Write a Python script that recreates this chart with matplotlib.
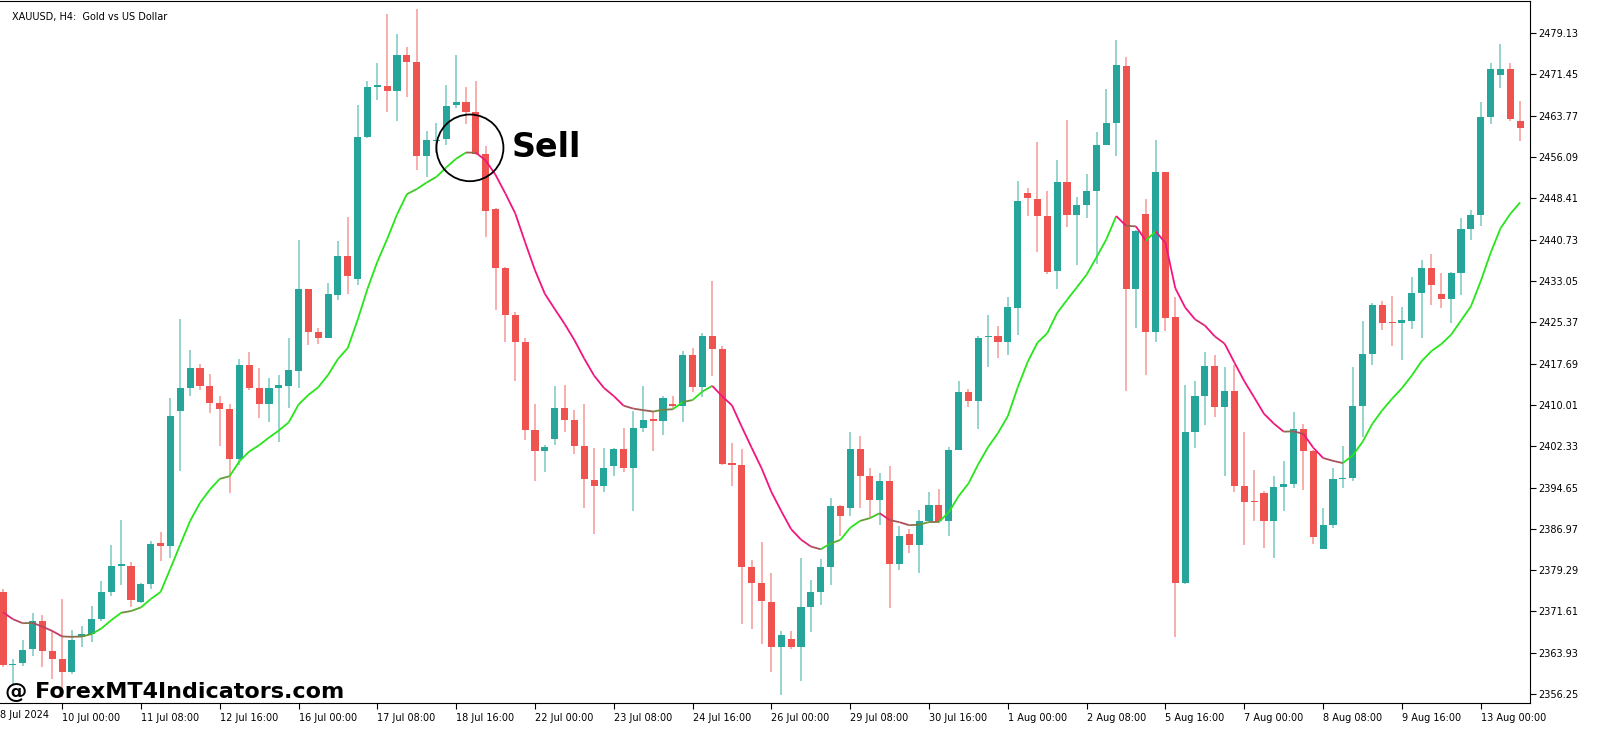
import matplotlib
matplotlib.use("Agg")
import matplotlib.pyplot as plt
import numpy as np
from matplotlib.patches import Ellipse, Rectangle
from matplotlib.collections import LineCollection

opens = [2375.3,2361.6,2362.0,2364.6,2369.9,2364.3,2362.8,2360.3,2366.8,2367.4,
 2370.3,2375.3,2380.1,2380.1,2373.4,2376.7,2384.3,2383.8,2408.8,2413.2,
 2416.9,2413.6,2410.3,2409.2,2400.0,2417.5,2413.1,2410.1,2413.2,2413.6,
 2416.3,2431.5,2423.6,2422.5,2430.5,2437.7,2433.5,2459.8,2469.2,2469.3,
 2468.3,2475.1,2473.7,2456.3,2459.1,2459.4,2465.8,2466.3,2464.4,2456.7,
 2446.5,2435.4,2426.7,2421.7,2405.3,2401.5,2403.6,2409.5,2407.2,2402.4,
 2396.1,2394.9,2398.6,2401.8,2398.3,2405.7,2407.2,2407.0,2410.2,2409.8,
 2419.2,2413.4,2422.8,2420.4,2399.0,2398.9,2379.8,2376.9,2373.4,2365.1,
 2366.5,2365.1,2372.4,2375.3,2379.8,2391.2,2390.8,2401.8,2396.8,2392.3,
 2395.8,2380.4,2386.0,2384.0,2388.4,2391.4,2388.5,2401.6,2412.5,2410.7,
 2422.6,2422.8,2421.8,2428.1,2449.5,2448.2,2445.1,2434.9,2451.5,2445.3,
 2447.1,2449.7,2458.4,2462.5,2473.1,2431.6,2445.5,2423.5,2453.3,2426.4,
 2376.9,2404.9,2411.7,2417.3,2409.7,2412.6,2394.9,2392.0,2393.7,2388.5,
 2394.7,2395.3,2405.5,2401.5,2383.3,2387.7,2396.2,2396.4,2409.8,2419.4,
 2428.5,2425.3,2425.2,2425.7,2430.8,2435.5,2430.6,2429.7,2434.5,2442.8,
 2445.3,2463.5,2471.4,2472.4,2462.8]
highs = [2375.7,2362.8,2366.4,2371.4,2370.9,2368.2,2373.9,2368.2,2369.0,2372.6,
 2377.3,2384.0,2388.7,2380.8,2376.9,2384.8,2386.3,2411.3,2426.0,2420.2,
 2417.7,2415.8,2411.7,2410.1,2418.5,2419.8,2416.9,2415.0,2415.5,2422.4,
 2440.7,2431.6,2424.4,2432.7,2440.5,2444.9,2465.8,2470.2,2473.5,2482.6,
 2479.0,2476.6,2483.6,2460.9,2462.5,2469.5,2475.1,2469.1,2470.2,2458.2,
 2446.6,2435.6,2427.3,2422.5,2410.1,2402.6,2413.6,2413.8,2409.1,2410.1,
 2402.0,2402.0,2402.0,2405.7,2408.8,2413.6,2408.8,2411.7,2411.7,2420.0,
 2420.6,2423.3,2433.0,2421.0,2403.0,2401.8,2381.1,2384.6,2378.7,2368.0,
 2367.9,2381.5,2377.5,2381.3,2392.8,2391.4,2404.9,2404.3,2398.2,2397.4,
 2398.6,2387.5,2387.0,2390.4,2393.9,2394.3,2402.2,2414.4,2413.0,2422.8,
 2426.8,2424.6,2430.1,2451.7,2450.3,2458.8,2449.7,2455.5,2462.9,2448.6,
 2452.9,2460.8,2468.8,2477.9,2474.7,2442.5,2448.2,2459.2,2453.4,2430.0,
 2413.8,2414.5,2419.8,2419.2,2417.0,2417.5,2404.9,2397.9,2394.1,2396.8,
 2399.5,2408.7,2406.5,2401.6,2390.8,2398.3,2402.4,2417.0,2425.7,2428.9,
 2429.4,2430.2,2428.3,2433.7,2437.0,2438.0,2434.5,2434.7,2444.7,2446.3,
 2466.4,2473.5,2477.1,2473.6,2466.5]
lows = [2361.2,2357.8,2361.4,2363.4,2361.2,2359.1,2355.8,2360.0,2365.1,2366.0,
 2369.9,2374.4,2376.5,2372.4,2373.2,2375.7,2381.0,2381.5,2397.8,2411.7,
 2412.7,2408.6,2402.4,2393.7,2398.9,2412.7,2407.6,2406.9,2403.2,2409.5,
 2413.1,2421.1,2421.4,2422.4,2429.6,2430.6,2432.3,2459.6,2466.7,2464.5,
 2462.7,2467.3,2453.6,2452.3,2456.9,2458.3,2465.2,2462.3,2456.5,2441.3,
 2427.7,2421.8,2414.5,2403.4,2395.8,2397.6,2402.6,2404.9,2400.8,2390.8,
 2386.0,2393.9,2396.8,2397.6,2390.3,2404.9,2401.5,2404.4,2409.5,2406.8,
 2412.4,2411.5,2415.3,2398.9,2395.0,2369.3,2368.4,2365.5,2360.3,2356.0,
 2364.7,2358.7,2367.8,2372.8,2376.5,2385.6,2389.3,2390.8,2389.1,2387.7,
 2372.2,2379.4,2382.5,2378.8,2388.4,2388.1,2385.6,2401.6,2409.7,2405.5,
 2417.0,2418.8,2419.2,2423.1,2445.1,2438.5,2434.4,2431.5,2443.1,2436.0,
 2444.7,2436.2,2458.3,2456.3,2412.6,2424.3,2415.5,2421.7,2423.8,2366.8,
 2376.8,2402.0,2406.2,2407.8,2396.8,2393.9,2384.0,2388.5,2383.4,2381.5,
 2390.2,2394.5,2394.2,2384.1,2383.2,2387.1,2394.5,2395.8,2404.1,2417.4,
 2424.0,2420.9,2418.4,2424.2,2422.5,2428.6,2428.1,2425.2,2430.4,2440.6,
 2443.2,2462.3,2468.9,2462.8,2459.1]
closes = [2361.6,2361.8,2364.5,2369.9,2364.3,2362.8,2360.3,2366.4,2367.4,2370.3,
 2375.3,2380.1,2380.2,2373.8,2376.7,2384.1,2383.8,2408.0,2413.1,2416.9,
 2413.6,2410.3,2409.2,2400.0,2417.5,2413.2,2410.2,2413.1,2413.8,2416.5,
 2431.6,2423.6,2422.5,2430.6,2437.7,2433.9,2459.8,2469.1,2469.4,2468.3,
 2475.1,2473.7,2456.3,2459.2,2459.3,2465.6,2466.3,2464.4,2456.7,2446.0,
 2435.4,2426.7,2421.7,2405.3,2401.4,2402.2,2409.5,2407.2,2402.4,2396.2,
 2394.9,2398.3,2401.8,2398.2,2405.8,2407.2,2407.1,2411.3,2409.8,2419.2,
 2413.4,2422.8,2420.4,2399.0,2398.9,2379.8,2376.9,2373.6,2365.1,2367.2,
 2365.1,2372.4,2375.3,2379.8,2391.2,2389.3,2401.8,2396.8,2392.3,2395.8,
 2380.4,2385.6,2384.0,2388.4,2391.4,2388.5,2401.6,2412.5,2410.7,2422.5,
 2422.8,2421.8,2428.3,2448.0,2448.4,2445.1,2434.8,2451.5,2445.3,2447.1,
 2449.7,2458.4,2462.5,2473.2,2431.6,2442.4,2423.5,2453.3,2426.2,2376.9,
 2404.9,2411.6,2417.3,2409.7,2412.6,2394.9,2392.0,2391.9,2388.5,2394.7,
 2395.3,2405.5,2401.5,2385.4,2387.7,2396.2,2396.5,2409.8,2419.4,2428.6,
 2425.2,2425.2,2425.8,2430.8,2435.5,2432.3,2429.7,2434.5,2442.8,2445.3,
 2463.5,2472.4,2472.4,2463.2,2461.5]

price_ticks = [2479.13,2471.45,2463.77,2456.09,2448.41,2440.73,2433.05,2425.37,2417.69,
               2410.01,2402.33,2394.65,2386.97,2379.29,2371.61,2363.93,2356.25]
date_labels = ["10 Jul 00:00","11 Jul 08:00","12 Jul 16:00","16 Jul 00:00","17 Jul 08:00",
               "18 Jul 16:00","22 Jul 00:00","23 Jul 08:00","24 Jul 16:00","26 Jul 00:00",
               "29 Jul 08:00","30 Jul 16:00","1 Aug 00:00","2 Aug 08:00","5 Aug 16:00",
               "7 Aug 00:00","8 Aug 08:00","9 Aug 16:00","13 Aug 00:00"]
date_idx = [6 + 8*k for k in range(len(date_labels))]
ma_period = 14
ma_seed = 2373.0

GREEN = "#26a69a"; RED = "#ef5350"
GW = "#8fd1ca"; RW = "#f7a8a6"

fig = plt.figure(figsize=(16, 7.34), dpi=100)
ax = fig.add_axes([0.0, 31/734, 1530/1600, 1 - 31/734 - 1/734])
n = len(opens)
x = np.arange(n)
for i in range(n):
    o, h, l, c = opens[i], highs[i], lows[i], closes[i]
    up = c >= o
    ax.vlines(i, l, h, color=GW if up else RW, lw=1.3, zorder=2)
    bot = min(o, c); hgt = max(abs(c - o), 0.25)
    ax.add_patch(Rectangle((i - 0.36, bot), 0.72, hgt, facecolor=GREEN if up else RED,
                           edgecolor="none", zorder=3))

# EMA indicator
alpha = 2 / (ma_period + 1)
ma = []
v = ma_seed
for c in closes:
    v = v + alpha * (c - v)
    ma.append(v)
ma = np.array(ma)
pts = np.column_stack([x, ma])
segs = np.stack([pts[:-1], pts[1:]], axis=1)
slope = np.diff(ma)
cg = np.array([0.15, 0.9, 0.1]); cb = np.array([0.55, 0.42, 0.3]); cp = np.array([0.95, 0.08, 0.5])
cols = []
for s in slope:
    t = np.clip(s / 2.0, -1, 1)
    if t >= 0:
        cols.append(cb + (cg - cb) * min(1, t * 1.6))
    else:
        cols.append(cb + (cp - cb) * min(1, -t * 1.2))
ax.add_collection(LineCollection(segs, colors=cols, lw=1.3, zorder=4))

ax.set_xlim(-0.3, 155.0)
ax.set_ylim(2354.6, 2485.1)
ax.yaxis.tick_right()
ax.set_yticks(price_ticks)
ax.set_yticklabels([f"{p:.2f}" for p in price_ticks], fontsize=7)
ax.set_xticks(date_idx)
ax.set_xticklabels(date_labels, fontsize=7, ha="left")
ax.tick_params(axis="y", length=4, pad=2)
ax.tick_params(axis="x", length=4, pad=3)
for sp in ax.spines.values():
    sp.set_color("black"); sp.set_linewidth(0.8)
ax.spines["left"].set_visible(False)
fig.text(0.0, 19/734, "8 Jul 2024", fontsize=7, ha="left", va="center")

# annotation
ax.add_patch(Ellipse((47.4, 2457.8), 6.8, 12.4, fill=False, edgecolor="black", lw=1.3, zorder=5))
ax.text(51.6, 2457.8, "Sell", fontsize=24, fontweight="bold", va="center", ha="left", zorder=6)
ax.text(0.008, 0.985, "XAUUSD, H4:  Gold vs US Dollar", transform=ax.transAxes,
        fontsize=7, va="top", ha="left")
fig.text(0.003, 42/734, "@ ForexMT4Indicators.com", fontsize=16, fontweight="bold",
         ha="left", va="center")
fig.savefig("out.png", dpi=100)
